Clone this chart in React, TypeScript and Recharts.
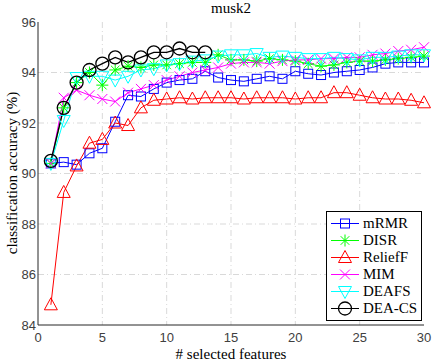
import React from "react";
import { LineChart, Line, XAxis, YAxis, CartesianGrid, Legend } from "recharts";

// # selected features
const features = [1, 2, 3, 4, 5, 6, 7, 8, 9, 10, 11, 12, 13, 14, 15, 16, 17, 18, 19, 20, 21, 22, 23, 24, 25, 26, 27, 28, 29, 30];

const mrmr = [90.4, 90.45, 90.35, 90.8, 91.0, 92.05, 93.1, 93.05, 93.35, 93.6, 93.7, 93.75, 94.05, 93.8, 93.7, 93.65, 93.75, 93.85, 93.75, 94.05, 93.95, 93.9, 94.0, 94.05, 94.1, 94.2, 94.35, 94.4, 94.4, 94.4];
const disr = [90.4, 92.6, 93.6, 94.0, 93.5, 94.1, 94.25, 94.2, 94.3, 94.3, 94.35, 94.4, 94.4, 94.7, 94.5, 94.5, 94.45, 94.55, 94.5, 94.45, 94.35, 94.25, 94.3, 94.4, 94.45, 94.45, 94.5, 94.55, 94.6, 94.65];
const relieff = [84.8, 89.25, 90.3, 91.2, 91.35, 92.0, 91.9, 92.6, 92.9, 92.95, 93.0, 92.95, 93.0, 93.0, 93.0, 92.95, 93.0, 93.0, 93.0, 92.95, 93.0, 93.0, 93.2, 93.2, 93.1, 93.0, 92.95, 92.95, 92.9, 92.8];
const mim = [90.4, 93.0, 93.3, 93.1, 92.95, 92.85, 93.2, 93.35, 93.5, 93.7, 93.85, 94.0, 94.1, 94.2, 94.35, 94.4, 94.4, 94.35, 94.45, 94.5, 94.5, 94.55, 94.55, 94.6, 94.6, 94.7, 94.75, 94.85, 94.9, 95.0];
const deafs = [90.4, 92.1, 93.8, 93.85, 93.85, 93.7, 93.85, 94.1, 94.15, 94.3, 94.35, 94.45, 94.5, 94.65, 94.7, 94.7, 94.75, 94.6, 94.65, 94.6, 94.55, 94.55, 94.6, 94.55, 94.5, 94.6, 94.6, 94.65, 94.7, 94.7];
const deacs = [90.5, 92.6, 93.6, 94.1, 94.35, 94.6, 94.4, 94.6, 94.8, 94.8, 94.95, 94.8, 94.8];

const xTicks = [0, 5, 10, 15, 20, 25, 30];
const yTicks = [84, 86, 88, 90, 92, 94, 96];

const data = features.map((f, i) => ({
  f,
  mRMR: mrmr[i],
  DISR: disr[i],
  ReliefF: relieff[i],
  MIM: mim[i],
  DEAFS: deafs[i],
  DEACS: i < deacs.length ? deacs[i] : null,
}));

type Shape = "square" | "star" | "tri" | "x" | "tridown" | "circle";

interface SeriesConfig {
  key: string;
  label: string;
  color: string;
  shape: Shape;
  width: number;
}

const series: SeriesConfig[] = [
  { key: "mRMR", label: "mRMR", color: "#0000ff", shape: "square", width: 1 },
  { key: "DISR", label: "DISR", color: "#00ff00", shape: "star", width: 1 },
  { key: "ReliefF", label: "ReliefF", color: "#ff0000", shape: "tri", width: 1 },
  { key: "MIM", label: "MIM", color: "#ff00ff", shape: "x", width: 1 },
  { key: "DEAFS", label: "DEAFS", color: "#00ffff", shape: "tridown", width: 1 },
  { key: "DEACS", label: "DEA-CS", color: "#000000", shape: "circle", width: 1.3 },
];

const SERIF = "'Liberation Serif', 'Times New Roman', serif";

const marker = (shape: Shape, cx: number, cy: number, color: string, key?: string) => {
  const common = { fill: "none", stroke: color, strokeWidth: 1 };
  switch (shape) {
    case "square":
      return <rect key={key} x={cx - 4.5} y={cy - 4.5} width={9} height={9} {...common} />;
    case "star":
      return (
        <g key={key} {...common}>
          <line x1={cx - 6} y1={cy} x2={cx + 6} y2={cy} />
          <line x1={cx} y1={cy - 6} x2={cx} y2={cy + 6} />
          <line x1={cx - 4.3} y1={cy - 4.3} x2={cx + 4.3} y2={cy + 4.3} />
          <line x1={cx - 4.3} y1={cy + 4.3} x2={cx + 4.3} y2={cy - 4.3} />
        </g>
      );
    case "tri":
      return <polygon key={key} points={`${cx},${cy - 7} ${cx - 6.5},${cy + 5} ${cx + 6.5},${cy + 5}`} {...common} />;
    case "x":
      return (
        <g key={key} {...common}>
          <line x1={cx - 5} y1={cy - 5} x2={cx + 5} y2={cy + 5} />
          <line x1={cx - 5} y1={cy + 5} x2={cx + 5} y2={cy - 5} />
        </g>
      );
    case "tridown":
      return <polygon key={key} points={`${cx},${cy + 7} ${cx - 6.5},${cy - 5} ${cx + 6.5},${cy - 5}`} {...common} />;
    case "circle":
      return <circle key={key} cx={cx} cy={cy} r={6.5} fill="none" stroke={color} strokeWidth={1.3} />;
  }
};

const CustomLegend = () => (
  <div
    style={{
      border: "1px solid #000",
      background: "#fff",
      padding: "3px 4px 3px 4px",
      fontFamily: SERIF,
      fontSize: 15,
      lineHeight: "17px",
      color: "#000",
    }}
  >
    {series.map((s) => (
      <div key={s.key} style={{ display: "flex", alignItems: "center", height: 17 }}>
        <svg width={30} height={17} style={{ display: "block" }}>
          <line x1={0} y1={8.5} x2={28} y2={8.5} stroke={s.color} strokeWidth={1} />
          {marker(s.shape, 14, 8.5, s.color)}
        </svg>
        <span style={{ marginLeft: 2 }}>{s.label}</span>
      </div>
    ))}
  </div>
);

const tickStyle = { fill: "#404040", fontSize: 13, fontFamily: "'Liberation Sans', sans-serif" };

// 제목 + x축 라벨 (bottom axis label 하나로 그림)
const TitleAndXLabel = () => (
  <g>
    <text x={231} y={13} textAnchor="middle" fontFamily={SERIF} fontSize={15} fill="#000">
      musk2
    </text>
    <text x={231} y={359} textAnchor="middle" fontFamily={SERIF} fontSize={15} fill="#000">
      # selected features
    </text>
  </g>
);

export default function App() {
  return (
    <div style={{ position: "absolute", left: 0, top: 0 }}>
      <LineChart width={434} height={364} data={data} margin={{ top: 22, right: 10, bottom: 0, left: 0 }}>
        <CartesianGrid
          horizontalValues={[86, 88, 90, 92, 94]}
          verticalValues={[5, 10, 15, 20, 25]}
          stroke="#d9d9d9"
          strokeDasharray="6 3 1 3"
        />
        <XAxis
          dataKey="f"
          type="number"
          domain={[0, 30]}
          ticks={xTicks}
          height={39}
          stroke="#262626"
          tick={tickStyle}
          tickLine={false}
          tickSize={0}
          tickMargin={8}
          label={{ content: () => <TitleAndXLabel /> }}
        />
        <XAxis
          xAxisId="top"
          dataKey="f"
          type="number"
          orientation="top"
          domain={[0, 30]}
          ticks={xTicks}
          height={0}
          stroke="#262626"
          tick={false}
          tickLine={false}
        />
        <YAxis
          type="number"
          domain={[84, 96]}
          ticks={yTicks}
          width={38}
          stroke="#262626"
          tick={tickStyle}
          tickLine={false}
          tickSize={0}
          tickMargin={2}
          label={{
            content: () => (
              <text
                x={12}
                y={173}
                transform="rotate(-90 12 173)"
                textAnchor="middle"
                dominantBaseline="central"
                fontFamily={SERIF}
                fontSize={15}
                fill="#000"
              >
                classification accuracy (%)
              </text>
            ),
          }}
        />
        <YAxis
          yAxisId="right"
          orientation="right"
          type="number"
          domain={[84, 96]}
          ticks={yTicks}
          width={0}
          stroke="#262626"
          tick={false}
          tickLine={false}
        />
        <Legend
          layout="vertical"
          align="center"
          verticalAlign="middle"
          content={<CustomLegend />}
          wrapperStyle={{ position: "absolute", left: 326, top: 211, width: "auto" }}
        />
        {series.map((s) => (
          <Line
            key={s.key}
            dataKey={s.key}
            type="linear"
            stroke={s.color}
            strokeWidth={s.width}
            isAnimationActive={false}
            connectNulls={false}
            dot={(p: any) =>
              p.value == null || p.cy == null ? <g key={p.key ?? p.index} /> : marker(s.shape, p.cx, p.cy, s.color, `${s.key}-${p.index}`)
            }
            activeDot={false}
          />
        ))}
      </LineChart>
    </div>
  );
}
